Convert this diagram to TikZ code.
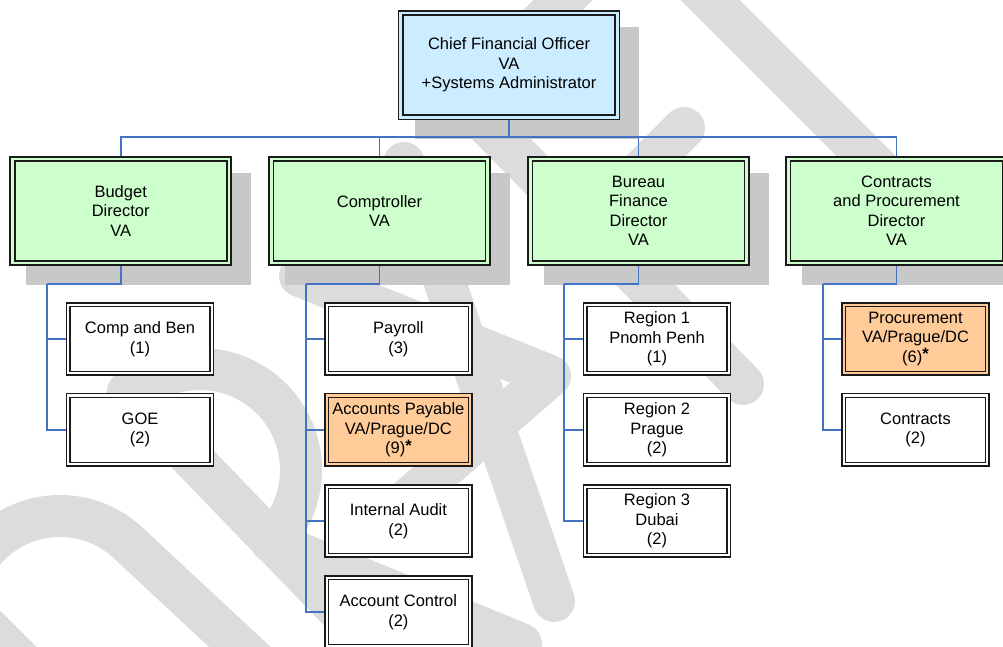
\documentclass[tikz,border=0pt]{standalone}
\usepackage{fontspec}
\setmainfont{Liberation Sans}
\usetikzlibrary{calc}

\definecolor{linkblue}{RGB}{68,114,196}
\definecolor{cfofill}{HTML}{CCECFF}
\definecolor{dirfill}{HTML}{CCFFCC}
\definecolor{hotfill}{HTML}{FFCC99}
\definecolor{shadegray}{RGB}{200,200,200}
\definecolor{wmgray}{RGB}{220,220,220}
\definecolor{edge}{RGB}{26,26,26}

\pgfdeclarelayer{wm}
\pgfdeclarelayer{shade}
\pgfdeclarelayer{links}
\pgfsetlayers{wm,shade,links,main}

\newcommand\starmark{\raisebox{2.5pt}{\bfseries *}}

\tikzset{
  boxtext/.style={font=\fontsize{16.5}{19.5}\selectfont, align=center, inner sep=0pt, text=black},
  bigbox/.style={boxtext, draw=edge, line width=1.8pt, double distance=2.6pt,
                 minimum width=216.5pt, minimum height=104.2pt},
  cfobox/.style={bigbox, fill=cfofill, double=cfofill},
  dirbox/.style={bigbox, fill=dirfill, double=dirfill},
  unitbox/.style={boxtext, draw=edge, line width=1.4pt, double distance=2.2pt,
                  minimum width=143.3pt, minimum height=68.5pt, fill=white, double=white},
  hotbox/.style={unitbox, fill=hotfill, double=hotfill},
  link/.style={draw=linkblue, line width=1.7pt},
  shadow/.style={fill=shadegray},
  wmstroke/.style={draw=wmgray, line width=42pt, line cap=round, line join=round},
}

\begin{document}
\begin{tikzpicture}[x=1pt, y=-1pt]
\useasboundingbox (0,0) rectangle (1003,646);
\clip (0,0) rectangle (1003,646);

% ---------- boxes ----------
\node[cfobox] (cfo) at (509,65.2) {Chief Financial Officer\\VA\\+Systems Administrator};

\node[dirbox] (g1) at (120.7,210.9) {Budget\\Director\\VA};
\node[dirbox] (g2) at (379.5,210.9) {Comptroller\\VA};
\node[dirbox] (g3) at (638.5,210.9) {Bureau\\Finance\\Director\\VA};
\node[dirbox] (g4) at (896.5,210.9) {Contracts\\and Procurement\\Director\\VA};

\node[unitbox] (b1) at (140,339)   {Comp and Ben\\(1)};
\node[unitbox] (b2) at (140,429.8) {GOE\\(2)};

\node[unitbox] (p1) at (398.4,339)   {Payroll\\(3)};
\node[hotbox]  (p2) at (398.4,429.8) {Accounts Payable\\VA/Prague/DC\\(9)\starmark};
\node[unitbox] (p3) at (398.4,521)   {Internal Audit\\(2)};
\node[unitbox] (p4) at (398.4,612)   {Account Control\\(2)};

\node[unitbox] (r1) at (657,339)   {Region 1\\Pnomh Penh\\(1)};
\node[unitbox] (r2) at (657,429.8) {Region 2\\Prague\\(2)};
\node[unitbox] (r3) at (657,521)   {Region 3\\Dubai\\(2)};

\node[hotbox]  (q1) at (915.5,339)   {Procurement\\VA/Prague/DC\\(6)\starmark};
\node[unitbox] (q2) at (915.5,429.8) {Contracts\\(2)};

% ---------- connectors ----------
\begin{pgfonlayer}{links}
\begin{scope}
\clip (0,0) rectangle (1003,646);
\coordinate (hub) at (509,137.3);
\draw[link] (cfo.south) -- (hub);
\foreach \g in {g1,g2,g3,g4}
  \draw[link] (\g.north) |- (hub);

\coordinate (k1) at (47,283.7);
\coordinate (k2) at (305.7,283.7);
\coordinate (k3) at (564.3,283.7);
\coordinate (k4) at (823,283.7);
\draw[link] (g1.south) |- (k1);
\draw[link] (g2.south) |- (k2);
\draw[link] (g3.south) |- (k3);
\draw[link] (g4.south) |- (k4);

\foreach \c in {b1,b2} \draw[link] (\c.west) -| (k1);
\foreach \c in {p1,p2,p3,p4} \draw[link] (\c.west) -| (k2);
\foreach \c in {r1,r2,r3} \draw[link] (\c.west) -| (k3);
\foreach \c in {q1,q2} \draw[link] (\c.west) -| (k4);
\end{scope}
\end{pgfonlayer}

% ---------- drop shadows of the upper boxes ----------
\begin{pgfonlayer}{shade}
\begin{scope}
\clip (0,0) rectangle (1003,646);
\foreach \n in {cfo,g1,g2,g3,g4}
  \fill[shadow] ([shift={(14.9,14.9)}]\n.north west) rectangle ([shift={(21.1,21.1)}]\n.south east);
\end{scope}
\end{pgfonlayer}

% ---------- pale diagonal watermark strokes ----------
\begin{pgfonlayer}{wm}
\begin{scope}
\clip (0,0) rectangle (1003,646);
% upper right group
\draw[wmstroke] (640,-77) -- (463,100) -- (743,384);
\draw[wmstroke] (590,222) -- (684,128);
\draw[wmstroke] (650,-60) -- (935,225);
% middle group
\draw[wmstroke] (300,276) -- (550,376) -- (405,502);
\draw[wmstroke] (404,163) -- (554,601);
% rounded letter with bowl and leg
\draw[wmstroke] (128,392) -- (430,705);
\draw[wmstroke] (200,470) ++(-150:101) arc[start angle=-150, end angle=45, radius=101];
\draw[wmstroke] (272,542) -- (521,644);
% lower left corner
\draw[wmstroke] (-40,616) arc[start angle=180, end angle=315, radius=100] -- (270,675);
\draw[wmstroke] (-40,600) -- (60,700);
\end{scope}
\end{pgfonlayer}
\end{tikzpicture}
\end{document}
